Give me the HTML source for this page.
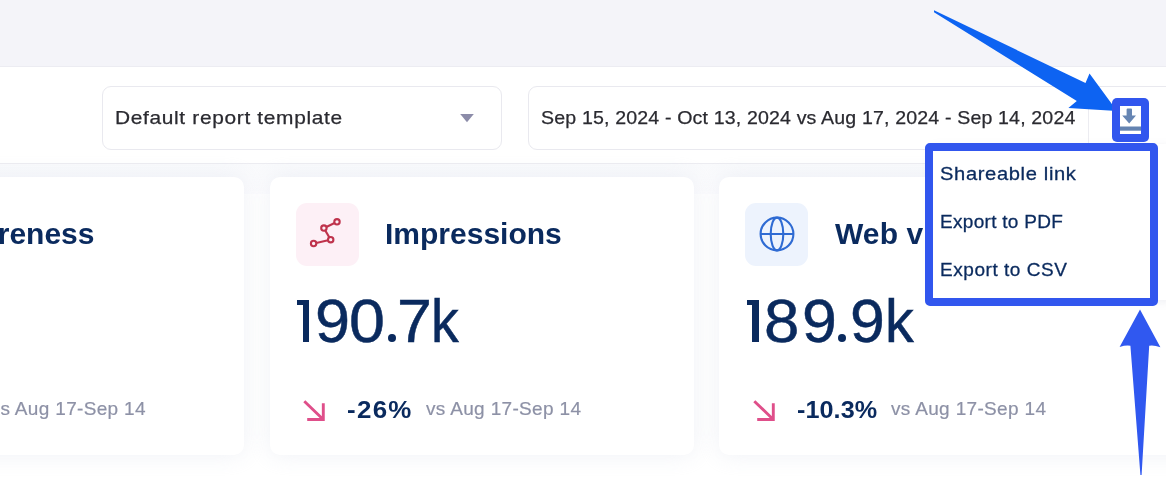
<!DOCTYPE html>
<html>
<head>
<meta charset="utf-8">
<title>Report</title>
<style>
*{box-sizing:border-box;margin:0;padding:0}
html,body{width:1166px;height:498px;overflow:hidden;background:#fff}
body{position:relative;will-change:transform;font-family:"Liberation Sans",sans-serif;color:#092a5e}
.abs{position:absolute}
.sx,.pct,.mi{transform-origin:0 50%}
.topband{left:0;top:0;width:1166px;height:66px;background:#f4f4f9}
.toolbar{left:0;top:66px;width:1166px;height:98px;background:#fff;border-top:1px solid #ececf2;border-bottom:1px solid #ececf1}
.tint{left:0;top:164px;width:1166px;height:30px;background:linear-gradient(#f9fafc,#fcfcfe)}
.box{border:1px solid #e9e9ef;border-radius:9px;background:#fff}
.sel{left:102px;top:86px;width:400px;height:64px}
.date{left:528px;top:86px;width:660px;height:64px}
.tbtext{font-size:19px;color:#2a2a30;-webkit-text-stroke:.25px #2a2a30;white-space:nowrap;line-height:20px}
.card{top:177px;height:278px;background:#fff;border-radius:10px;box-shadow:0 0 22px rgba(204,211,228,.32)}
.ico{width:63px;height:63px;border-radius:11px;top:202.5px}
.title{font-weight:bold;font-size:30px;line-height:30px;white-space:nowrap;color:#0a2a5e}
.big{font-size:58.8px;line-height:58px;-webkit-text-stroke:.4px #0a2a5e;white-space:nowrap;color:#0a2a5e}
.bg{font-size:60.5px;line-height:60px;color:#0a2a5e;-webkit-text-stroke:.5px #0a2a5e;transform-origin:0 0;white-space:nowrap}
.nv{background:#0a2a5e}
.pct{font-weight:bold;font-size:24px;line-height:24px;white-space:nowrap;color:#0a2a5e}
.vs{letter-spacing:.33px;font-size:19px;line-height:20px;white-space:nowrap;color:#8d91a6;-webkit-text-stroke:.2px #8d91a6}
.menu{left:925px;top:142.6px;width:233px;height:163px;border:8px solid #3156ee;border-radius:5px;background:#fff}
.mi{left:940px;font-size:19px;line-height:20px;white-space:nowrap;color:#0a2a5e;-webkit-text-stroke:.3px #0a2a5e}
</style>
</head>
<body>
<div class="abs topband"></div>
<div class="abs toolbar"></div>
<div class="abs tint"></div>

<!-- cards -->
<div class="abs card" style="left:-30px;width:274px"></div>
<div class="abs card" style="left:270px;width:424px"></div>
<div class="abs card" style="left:719px;width:480px"></div>

<!-- toolbar controls -->
<div class="abs box sel"></div>
<div class="abs tbtext sx" id="t_sel" style="left:115.2px;top:107.8px;letter-spacing:.6px;transform:scaleX(1.1)">Default report template</div>
<svg class="abs" style="left:459px;top:113px" width="16" height="10" viewBox="0 0 16 10"><path d="M1.2 1 L14.8 1 L8 9.2 Z" fill="#8c8ca9"/></svg>

<div class="abs box date"></div>
<div class="abs" style="left:1088px;top:87px;width:1px;height:62px;background:#ececf1"></div>
<div class="abs tbtext sx" id="t_date" style="left:540.8px;top:107.8px;letter-spacing:.15px;transform:scaleX(1.03)">Sep 15, 2024 - Oct 13, 2024 vs Aug 17, 2024 - Sep 14, 2024</div>

<!-- card 1 -->
<div class="abs title" id="t_c1" style="right:1071.5px;top:219px">Awareness</div>
<div class="abs vs" id="v_c1" style="left:-9.4px;top:399px">vs Aug 17-Sep 14</div>

<!-- card 2 -->
<div class="abs ico" style="left:295.6px;background:#fdf0f6"></div>
<svg class="abs" style="left:305px;top:214px" width="44" height="40" viewBox="305 214 44 40">
  <g fill="none" stroke="#bf334c" stroke-width="2.1">
    <path d="M316.24 242.91 L328.06 240.29"/>
    <path d="M329.33 237.37 L325.27 230.43"/>
    <path d="M326.33 226.93 L334.57 222.97"/>
    <circle cx="337.0" cy="221.8" r="2.7"/>
    <circle cx="323.9" cy="228.1" r="2.7"/>
    <circle cx="330.7" cy="239.7" r="2.7"/>
    <circle cx="313.6" cy="243.5" r="2.7"/>
  </g>
</svg>
<div class="abs title" id="t_c2" style="left:385px;top:219px;letter-spacing:0">Impressions</div>
<!--B2-->
<div class="abs nv" style="left:302.60px;top:299.60px;width:6.4px;height:42.2px"></div>
<div class="abs nv" style="left:296.60px;top:299.60px;width:7.00px;height:5.5px"></div>
<div class="abs bg" style="left:314.55px;top:290.82px;transform:scaleX(1.0413)">9</div>
<div class="abs bg" style="left:349.47px;top:290.82px;transform:scaleX(1.0684)">0</div>
<div class="abs nv" style="left:388.10px;top:334.30px;width:7.80px;height:7.80px;border-radius:50%"></div>
<div class="abs bg" style="left:396.69px;top:290.82px;transform:scaleX(1.0363)">7</div>
<div class="abs bg" style="left:431.36px;top:290.82px;transform:scaleX(0.9177)">k</div>
<!--/B2-->
<svg class="abs" style="left:300.8px;top:398px" width="28" height="26" viewBox="302 398 28 26"><path d="M305.3 401.2 L324 419.2 M308.2 419.5 L324.3 419.5 L324.3 403.2" fill="none" stroke="#df4f8a" stroke-width="2.9" stroke-linejoin="miter"/></svg>
<div class="abs pct" id="p_c2" style="left:347px;top:398px;letter-spacing:1.2px;transform:scaleX(1.08)">-26%</div>
<div class="abs vs" id="v_c2" style="left:426px;top:399px">vs Aug 17-Sep 14</div>

<!-- card 3 -->
<div class="abs ico" style="left:745.4px;background:#edf3fd"></div>
<svg class="abs" style="left:755px;top:212px" width="44" height="44" viewBox="0 0 44 44">
  <g fill="none" stroke="#2f6bd3" stroke-width="2.1">
    <circle cx="22" cy="22" r="16.4"/>
    <ellipse cx="22" cy="22" rx="6.3" ry="16.4"/>
    <path d="M5.4 22 L38.6 22"/>
  </g>
</svg>
<div class="abs title" id="t_c3" style="left:835px;top:219px;letter-spacing:.1px">Web v</div>
<!--B3-->
<div class="abs nv" style="left:752.30px;top:299.60px;width:6.4px;height:42.2px"></div>
<div class="abs nv" style="left:746.60px;top:299.60px;width:6.70px;height:5.5px"></div>
<div class="abs bg" style="left:763.93px;top:290.82px;transform:scaleX(1.0532)">8</div>
<div class="abs bg" style="left:801.57px;top:290.82px;transform:scaleX(1.0341)">9</div>
<div class="abs nv" style="left:838.30px;top:334.00px;width:8.10px;height:8.10px;border-radius:50%"></div>
<div class="abs bg" style="left:849.57px;top:290.82px;transform:scaleX(1.0341)">9</div>
<div class="abs bg" style="left:885.02px;top:290.82px;transform:scaleX(0.9519)">k</div>
<!--/B3-->
<svg class="abs" style="left:750.8px;top:398px" width="28" height="26" viewBox="302 398 28 26"><path d="M305.3 401.2 L324 419.2 M308.2 419.5 L324.3 419.5 L324.3 403.2" fill="none" stroke="#df4f8a" stroke-width="2.9" stroke-linejoin="miter"/></svg>
<div class="abs pct" id="p_c3" style="left:797px;top:398px;letter-spacing:.05px;transform:scaleX(1.05)">-10.3%</div>
<div class="abs vs" id="v_c3" style="left:891px;top:399px">vs Aug 17-Sep 14</div>

<!-- annotation arrow 1 -->
<svg class="abs" style="left:0;top:0" width="1166" height="498" viewBox="0 0 1166 498">
  <path d="M934 10.3 L1085.5 83 L1089.5 73.6 L1117 111 L1068.4 108 L1076.8 101 L934 12.2 Z" fill="#0d63f2"/>
</svg>

<!-- download icon w/ highlight -->
<div class="abs" style="left:1112px;top:98px;width:37px;height:43.6px;background:#3156ee;border-radius:5px"></div>
<div class="abs" style="left:1120px;top:106px;width:21px;height:28px;background:#fff"></div>
<svg class="abs" style="left:1120px;top:106px" width="21" height="28" viewBox="1120 106 21 28">
  <path d="M1126.6 109.4 Q1126.6 108.4 1127.6 108.4 L1131 108.4 Q1132 108.4 1132 109.4 L1132 115.6 L1136 115.6 L1129.2 123.4 L1122.2 115.6 L1126.6 115.6 Z" fill="#6685b3"/>
  <rect x="1120" y="126.5" width="21" height="4.2" fill="#6483b1"/>
</svg>

<!-- dropdown menu -->
<div class="abs" style="left:930px;top:144px;width:244px;height:156px;background:#fff;border-radius:8px;box-shadow:0 2px 9px rgba(120,130,160,.13)"></div>
<div class="abs menu"></div>
<div class="abs mi" id="m1" style="top:163.5px;letter-spacing:.6px;transform:scaleX(1.06)">Shareable link</div>
<div class="abs mi" id="m2" style="top:212px;letter-spacing:.3px">Export to PDF</div>
<div class="abs mi" id="m3" style="top:259.6px;letter-spacing:.55px">Export to CSV</div>

<!-- annotation arrow 2 -->
<svg class="abs" style="left:0;top:0" width="1166" height="498" viewBox="0 0 1166 498">
  <path d="M1140 309.6 L1160.4 347.2 Q1154 345 1149.2 345.8 L1141.6 475 L1140.4 475 L1130.4 345.8 Q1126 345 1119.6 347 Z" fill="#3058f0"/>
</svg>
</body>
</html>
